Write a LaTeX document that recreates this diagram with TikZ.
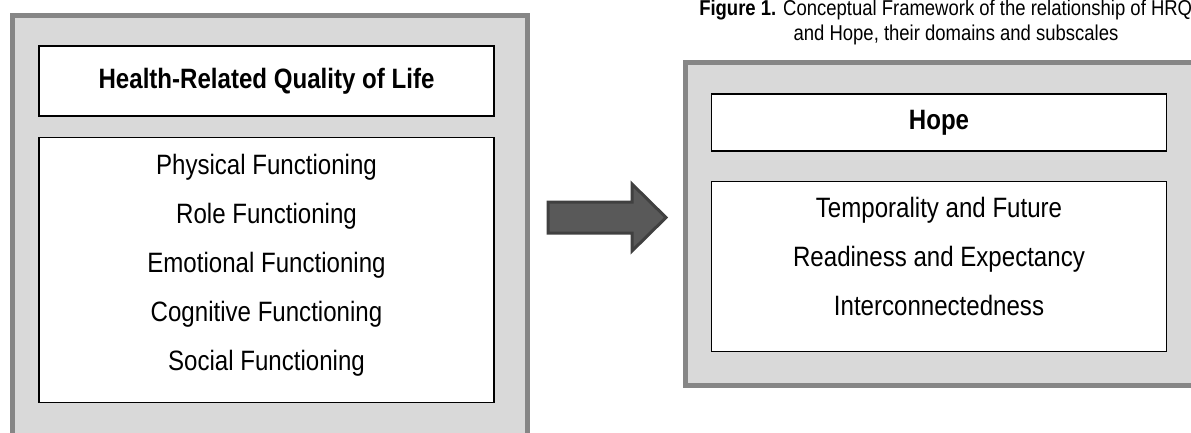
\documentclass[tikz,border=0pt]{standalone}
\usepackage{fontspec}
\setmainfont{Liberation Sans}[FakeStretch=0.86]
\usetikzlibrary{positioning}
\definecolor{panelfill}{HTML}{D9D9D9}
\definecolor{paneledge}{HTML}{868686}
\definecolor{arrowfill}{HTML}{595959}
\definecolor{arrowedge}{HTML}{404040}

\begin{document}
\begin{tikzpicture}[x=1pt, y=-1pt,
  panel/.style={fill=panelfill, draw=paneledge, line width=5pt, anchor=north west},
  headbox/.style={draw=black, fill=white, line width=1.6pt, minimum width=455pt, align=center, font=\fontsize{28}{34}\selectfont\bfseries},
  listbox/.style={draw=black, fill=white, line width=1.6pt, minimum width=455pt, align=center, font=\fontsize{28}{49}\selectfont}]
\useasboundingbox (0,0) rectangle (1191,432);
\clip (0,0) rectangle (1191,432);
% panels
\node[panel, minimum width=515pt, minimum height=440pt] (qolpanel) at (10,13) {};
\node[panel, minimum width=540pt, minimum height=323pt] (hopepanel) at (683,60) {};
% left side
\node[headbox, minimum height=70pt] (qoltitle) at (266.5,81) {Health-Related Quality of Life};
\node[listbox, minimum height=265pt, text depth=15pt, below=20pt of qoltitle] (qollist) {Physical Functioning\\Role Functioning\\Emotional Functioning\\Cognitive Functioning\\Social Functioning};
% right side
\node[headbox, minimum height=57pt] (hopetitle) at (939,122.5) {Hope};
\node[listbox, minimum height=170pt, text depth=20pt, below=29pt of hopetitle] (hopelist) {Temporality and Future\\Readiness and Expectancy\\Interconnectedness};
% caption
\node[anchor=north, inner sep=0pt, align=center, font=\fontsize{21.5}{25}\selectfont] (figcap) at (956,0) {\textbf{Figure 1.} Conceptual Framework of the relationship of HRQoL\\and Hope, their domains and subscales};
% block arrow
\filldraw[fill=arrowfill, draw=arrowedge, line width=3pt, line join=miter]
  (548,202) -- (632,202) -- (632,184) -- (666,217.5) -- (632,251) -- (632,233) -- (548,233) -- cycle;
\end{tikzpicture}
\end{document}
